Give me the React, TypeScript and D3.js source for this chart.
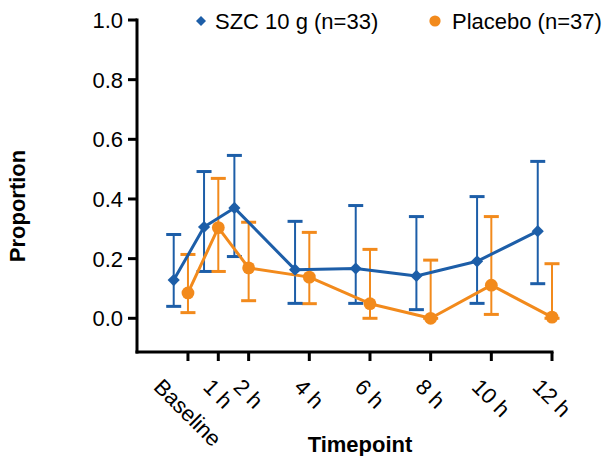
import React from "react";
import * as d3 from "d3";

const hours = [0, 1, 2, 4, 6, 8, 10, 12];
const tickLabels = ["Baseline", "1 h", "2 h", "4 h", "6 h", "8 h", "10 h", "12 h"];

const szcMean = [0.128, 0.306, 0.370, 0.163, 0.167, 0.142, 0.191, 0.292];
const szcUpper = [0.281, 0.492, 0.546, 0.325, 0.378, 0.341, 0.408, 0.526];
const szcLower = [0.040, 0.157, 0.207, 0.050, 0.050, 0.029, 0.050, 0.116];

const placeboMean = [0.085, 0.304, 0.169, 0.138, 0.049, 0.0, 0.111, 0.004];
const placeboUpper = [0.214, 0.469, 0.322, 0.288, 0.231, 0.195, 0.341, 0.183];
const placeboLower = [0.019, 0.157, 0.059, 0.049, 0.0, 0.0, 0.013, 0.0];

const yTicks = [0, 0.2, 0.4, 0.6, 0.8, 1.0];

const BLUE = "#1d5ea8";
const ORANGE = "#f28a1c";
const FONT = "'Liberation Sans', Arial, sans-serif";

const layout = {
	width: 607,
	height: 456,
	left: 137,
	right: 552,
	top: 20,
	bottom: 352,
};

const measure = (txt: string, font: string) => {
	const c = document.createElement("canvas").getContext("2d");
	if (!c) return txt.length * 11;
	c.font = font;
	return c.measureText(txt).width;
};

export default function App() {
	const xScale = d3.scaleLinear().domain([-1.68, 12]).range([layout.left, layout.right]);
	const yScale = d3.scaleLinear().domain([-0.113, 1.0]).range([layout.bottom, layout.top]);

	const series = [
		{ name: "placebo", color: ORANGE, shift: 0, mean: placeboMean, up: placeboUpper, lo: placeboLower },
		{ name: "szc", color: BLUE, shift: -0.47, mean: szcMean, up: szcUpper, lo: szcLower },
	];

	const line = d3.line<[number, number]>()
		.x(d => xScale(d[0]))
		.y(d => yScale(d[1]));

	const diamond = d3.symbol().type(d3.symbolSquare).size(74)();
	const diamondSmall = d3.symbol().type(d3.symbolSquare).size(50)();

	const capHalf = 7.5;
	const r45 = Math.SQRT1_2;
	const asc = 15.8;

	return (
		<svg width={layout.width} height={layout.height}
			style={{ position: "absolute", left: 0, top: 0, background: "#fff" }}
			fontFamily={FONT}>

			{/* error bars */}
			{series.map(s => (
				<g key={s.name + "err"} stroke={s.color}>
					{hours.map((h, i) => {
						const x = xScale(h + s.shift);
						return (
							<g key={i}>
								<line x1={x} x2={x} y1={yScale(s.up[i])} y2={yScale(s.lo[i])} strokeWidth={2} />
								<line x1={x - capHalf} x2={x + capHalf} y1={yScale(s.up[i])} y2={yScale(s.up[i])} strokeWidth={3} />
								<line x1={x - capHalf} x2={x + capHalf} y1={yScale(s.lo[i])} y2={yScale(s.lo[i])} strokeWidth={3} />
							</g>
						);
					})}
				</g>
			))}

			{/* lines */}
			{series.map(s => (
				<path key={s.name + "line"}
					d={line(hours.map((h, i) => [h + s.shift, s.mean[i]] as [number, number])) || ""}
					fill="none" stroke={s.color} strokeWidth={3} strokeLinejoin="round" />
			))}

			{/* markers */}
			{hours.map((h, i) => (
				<circle key={"pm" + i} cx={xScale(h)} cy={yScale(placeboMean[i])} r={6.4} fill={ORANGE} />
			))}
			{hours.map((h, i) => (
				<path key={"sm" + i} d={diamond || ""} fill={BLUE}
					transform={`translate(${xScale(h - 0.47)},${yScale(szcMean[i])}) rotate(45)`} />
			))}

			{/* y axis */}
			<line x1={layout.left} x2={layout.left} y1={layout.top - 1.5} y2={layout.bottom + 1.5} stroke="#000" strokeWidth={3} />
			{yTicks.map(t => (
				<g key={t}>
					<line x1={layout.left - 9} x2={layout.left} y1={yScale(t)} y2={yScale(t)} stroke="#000" strokeWidth={3} />
					<text x={layout.left - 14} y={yScale(t) + 8} textAnchor="end" fontSize={22} fill="#000">
						{t.toFixed(1)}
					</text>
				</g>
			))}

			{/* x axis */}
			<line x1={layout.left - 1.5} x2={layout.right + 1.5} y1={layout.bottom} y2={layout.bottom} stroke="#000" strokeWidth={3} />
			{hours.map((h, i) => {
				const x = xScale(h);
				const w = measure(tickLabels[i], `22px ${FONT}`);
				const px = x - r45 * asc / 2;
				const py = 377 + r45 * (w / 2 + asc);
				return (
					<g key={h}>
						<line x1={x} x2={x} y1={layout.bottom} y2={layout.bottom + 9} stroke="#000" strokeWidth={3} />
						<text transform={`translate(${px},${py}) rotate(45)`} textAnchor="middle" fontSize={22} fill="#000">
							{tickLabels[i]}
						</text>
					</g>
				);
			})}

			{/* axis titles */}
			<text x={360} y={452} textAnchor="middle" fontSize={22} fontWeight="bold" fill="#000">Timepoint</text>
			<text transform="translate(25,206) rotate(-90)" textAnchor="middle" fontSize={22} fontWeight="bold" fill="#000">Proportion</text>

			{/* legend */}
			<path d={diamondSmall || ""} fill={BLUE} transform="translate(201,21) rotate(45)" />
			<text x={215} y={29} fontSize={22} fill="#000">SZC 10 g (n=33)</text>
			<circle cx={435} cy={21} r={5.6} fill={ORANGE} />
			<text x={452} y={29} fontSize={22} fill="#000">Placebo (n=37)</text>
		</svg>
	);
}
